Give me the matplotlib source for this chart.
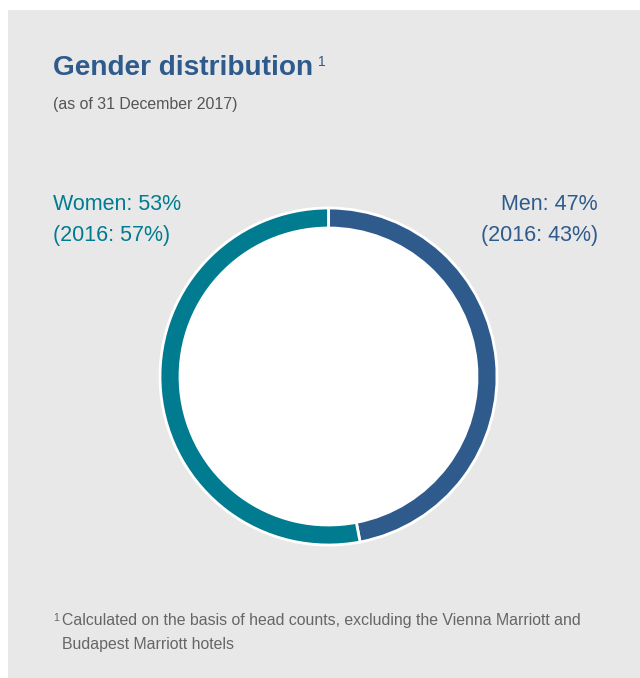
import matplotlib
matplotlib.use("Agg")
import matplotlib.pyplot as plt

categories = ["Men", "Women"]
shares_2017 = [47, 53]
shares_2016 = [43, 57]
colors = ["#2e5a8c", "#007b8f"]

W, H = 640, 678
fig = plt.figure(figsize=(W / 100, H / 100), dpi=100)
fig.patch.set_facecolor("white")

# gray panel
bg = fig.add_axes([8 / W, 0, (W - 8) / W, (H - 10) / H])
bg.set_facecolor("#e8e8e8")
bg.set_xticks([]); bg.set_yticks([])
for s in bg.spines.values():
    s.set_visible(False)

def fx(x):
    return x / W

def fy(y):
    return 1 - y / H

font = "Liberation Sans"

title = fig.text(fx(53), fy(68), "Gender distribution", fontsize=20.2, color="#2e5a8c",
                 family=font, weight="bold", va="center", ha="left")
fig.canvas.draw()
bb = title.get_window_extent(renderer=fig.canvas.get_renderer())
fig.text((bb.x1 + 5) / W, fy(62), "1", fontsize=10, color="#2e5a8c", family=font,
         va="center", ha="left")
fig.text(fx(53), fy(105), "(as of 31 December 2017)", fontsize=11.4, color="#555555",
         family=font, va="center", ha="left")

# donut
cx, cy, r = 328.5, 376.5, 168.5
ax = fig.add_axes([fx(cx - r), fy(cy + r), 2 * r / W, 2 * r / H])
ax.pie(shares_2017, colors=colors, startangle=90, counterclock=False,
       radius=1.0, wedgeprops=dict(width=20 / r, edgecolor="white", linewidth=2))
ax.add_patch(plt.Circle((0, 0), 1 - 20 / r, color="white", zorder=0))
ax.set_xlim(-1, 1); ax.set_ylim(-1, 1)
ax.set_aspect("equal")
ax.axis("off")

# labels
lab_kw = dict(fontsize=15.5, family=font, va="center")
fig.text(fx(53), fy(205), f"{categories[1]}: {shares_2017[1]}%", color=colors[1], ha="left", **lab_kw)
fig.text(fx(53), fy(235), f"(2016: {shares_2016[1]}%)", color=colors[1], ha="left", **lab_kw)
fig.text(fx(598), fy(205), f"{categories[0]}: {shares_2017[0]}%", color=colors[0], ha="right", **lab_kw)
fig.text(fx(598), fy(235), f"(2016: {shares_2016[0]}%)", color=colors[0], ha="right", **lab_kw)

# footnote
fig.text(fx(53), fy(618), "1", fontsize=7.5, color="#666666", family=font, va="center", ha="left")
fig.text(fx(62), fy(621), "Calculated on the basis of head counts, excluding the Vienna Marriott and",
         fontsize=11.4, color="#666666", family=font, va="center", ha="left")
fig.text(fx(62), fy(645), "Budapest Marriott hotels",
         fontsize=11.4, color="#666666", family=font, va="center", ha="left")

fig.savefig("out.png", dpi=100, facecolor=fig.get_facecolor())
